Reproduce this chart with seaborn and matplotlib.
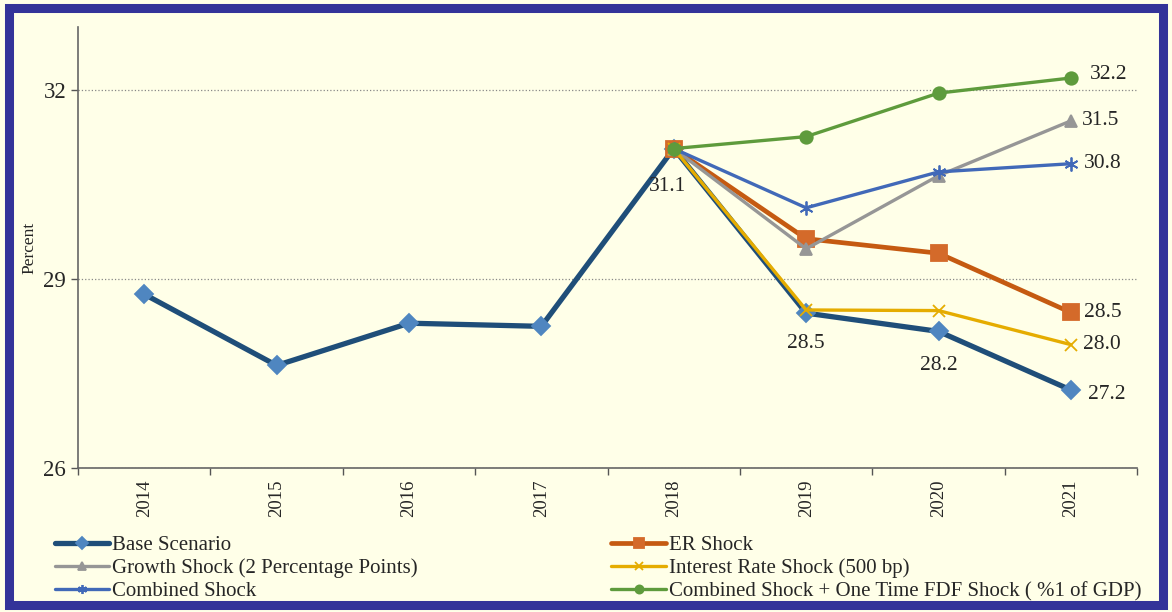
import numpy as np
import pandas as pd
import matplotlib
matplotlib.use("Agg")
import matplotlib.pyplot as plt
from matplotlib.patches import Rectangle
import seaborn as sns

years = ["2014", "2015", "2016", "2017", "2018", "2019", "2020", "2021"]
nan = np.nan
base = [28.76, 27.63, 28.30, 28.25, 31.07, 28.46, 28.17, 27.24]
er_shock = [nan, nan, nan, nan, 31.07, 29.64, 29.41, 28.47]
growth_shock = [nan, nan, nan, nan, 31.07, 29.48, 30.64, 31.51]
interest_shock = [nan, nan, nan, nan, 31.07, 28.51, 28.50, 27.96]
combined_shock = [nan, nan, nan, nan, 31.07, 30.13, 30.70, 30.83]
fdf_shock = [nan, nan, nan, nan, 31.07, 31.26, 31.95, 32.19]

labels = ["Base Scenario", "ER Shock", "Growth Shock (2 Percentage Points)",
          "Interest Rate Shock (500 bp)", "Combined Shock",
          "Combined Shock + One Time FDF Shock ( %1 of GDP)"]

sns.set_theme(style="white")
plt.rcParams["font.family"] = ["Liberation Serif", "DejaVu Serif"]

bg = "#FFFFE8"
fig = plt.figure(figsize=(11.72, 6.12), dpi=100, facecolor=bg)
ax = fig.add_axes([0.0666, 0.235, 0.9036, 0.721])
ax.set_facecolor(bg)

df = pd.DataFrame({"year": years, "pos": np.arange(len(years))})

# (values, label, line colour, marker, marker colour, line width, marker size)
styles = [
    (base, labels[0], "#1F4E79", "D", "#4F86C0", 3.8, 9.5),
    (er_shock, labels[1], "#C55A11", "s", "#D46A2A", 3.4, 11.5),
    (growth_shock, labels[2], "#969696", "^", "#969696", 2.4, 9),
    (interest_shock, labels[3], "#E5AC00", "x", "#E5AC00", 2.4, 9),
    (combined_shock, labels[4], "#4169B8", (6, 2, 0), "#4169B8", 2.4, 10),
    (fdf_shock, labels[5], "#5E9B3C", "o", "#5E9B3C", 2.4, 9),
]

for vals, lab, col, mk, mcol, lw, ms in styles:
    sns.lineplot(x=df["pos"], y=vals, ax=ax, color=col, linewidth=lw,
                 marker=mk, markersize=ms, markerfacecolor=mcol,
                 markeredgecolor=mcol, markeredgewidth=1.3, label=lab)

# data labels
fs = 15.5
ax.text(4 - 0.05, base[4] - 0.68, f"{base[4]:.1f}", ha="center", fontsize=fs)
ax.text(5, base[5] - 0.55, f"{base[5]:.1f}", ha="center", fontsize=fs)
ax.text(6, base[6] - 0.62, f"{base[6]:.1f}", ha="center", fontsize=fs)
ax.text(7.13, base[7] - 0.07, f"{base[7]:.1f}", ha="left", va="center", fontsize=fs)
ax.text(7.1, er_shock[7], f"{er_shock[7]:.1f}", ha="left", va="center", fontsize=fs)
ax.text(7.09, interest_shock[7], f"{interest_shock[7]:.1f}", ha="left", va="center", fontsize=fs)
ax.text(7.1, combined_shock[7], f"{combined_shock[7]:.1f}", ha="left", va="center", fontsize=fs)
ax.text(7.08, growth_shock[7], f"{growth_shock[7]:.1f}", ha="left", va="center", fontsize=fs)
ax.text(7.14, fdf_shock[7] + 0.05, f"{fdf_shock[7]:.1f}", ha="left", va="center", fontsize=fs)

ax.set_xlim(-0.5, 7.5)
ax.set_ylim(26, 33)
ax.set_yticks([26, 29, 32])
ax.set_yticklabels(["26", "29", "32"], fontsize=16.5)
ax.set_xticks(np.arange(len(years)))
ax.set_xticklabels(years, rotation=90, fontsize=13.5)
ax.set_xticks(np.arange(-0.5, 8, 1), minor=True)
ax.tick_params(axis="x", which="major", length=0, pad=8)
ax.tick_params(axis="x", which="minor", length=5, width=1, color="#555555", direction="out", bottom=True)
ax.tick_params(axis="y", length=5, width=1, color="#555555", direction="out", left=True)
ax.set_xlabel("")
ax.set_ylabel("Percent", fontsize=12.5, labelpad=4)
ax.yaxis.grid(True, linestyle=":", color="#888888", linewidth=0.9)
ax.set_axisbelow(True)
for s in ["top", "right"]:
    ax.spines[s].set_visible(False)
for s in ["left", "bottom"]:
    ax.spines[s].set_color("#666666")
    ax.spines[s].set_linewidth(1.2)

handles, labs = ax.get_legend_handles_labels()
order = [0, 2, 4, 1, 3, 5]
ax.legend([handles[i] for i in order], [labs[i] for i in order], ncol=2,
          loc="upper left", bbox_to_anchor=(-0.022, -0.152), frameon=False,
          fontsize=15, handlelength=2.6, handletextpad=0.15, markerscale=0.65,
          labelspacing=0.17, columnspacing=9.3, borderaxespad=0, borderpad=0)

fig.patches.append(Rectangle((0.0077, 0.0115), 0.9846, 0.9755, transform=fig.transFigure,
                             fill=False, edgecolor="#333399", linewidth=6.5))

fig.savefig("out.png", dpi=100, facecolor=bg)
